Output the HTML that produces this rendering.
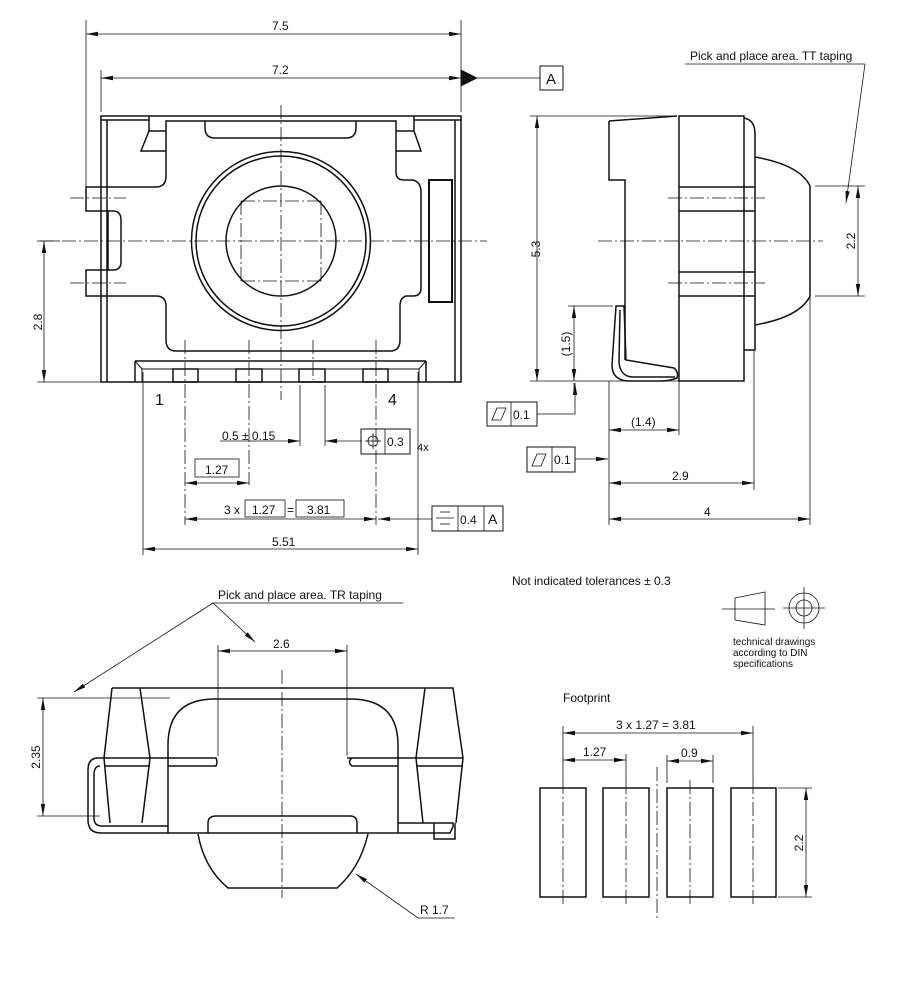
<!DOCTYPE html>
<html><head><meta charset="utf-8"><style>body{margin:0;background:#fff}svg{display:block}text{font-family:"Liberation Sans",sans-serif;fill:#111}</style></head><body>
<svg width="900" height="994" viewBox="0 0 900 994" xmlns="http://www.w3.org/2000/svg">
<defs>
<marker id="a" viewBox="0 0 12 6" refX="12" refY="3" markerWidth="12" markerHeight="6" orient="auto-start-reverse" markerUnits="userSpaceOnUse"><path d="M0,0.8 L12,3 L0,5.2z" fill="#111"/></marker>
</defs>
<g fill="none" stroke="#111" stroke-width="0.8">
<!-- center lines -->
<g stroke-dasharray="14,3,2,3">
<line x1="40" y1="241" x2="487" y2="241"/><line x1="281" y1="105" x2="281" y2="400"/>
<line x1="70" y1="198" x2="126" y2="198"/><line x1="70" y1="283" x2="126" y2="283"/>
<line x1="241" y1="201" x2="321" y2="201"/><line x1="241" y1="281" x2="321" y2="281"/>
<line x1="241" y1="201" x2="241" y2="281"/><line x1="321" y1="201" x2="321" y2="281"/>
<line x1="598" y1="241" x2="823" y2="241"/><line x1="668" y1="198" x2="765" y2="198"/><line x1="668" y1="283" x2="765" y2="283"/>
<line x1="282" y1="670" x2="282" y2="898"/>
<line x1="563" y1="780" x2="563" y2="905"/><line x1="626" y1="780" x2="626" y2="905"/><line x1="690" y1="780" x2="690" y2="905"/><line x1="753" y1="780" x2="753" y2="905"/>
<line x1="657" y1="767" x2="657" y2="920"/>
<line x1="185" y1="340" x2="185" y2="525"/><line x1="249" y1="340" x2="249" y2="485"/><line x1="313" y1="340" x2="313" y2="380"/><line x1="376" y1="340" x2="376" y2="525"/>
</g>
<!-- top view outlines -->
<g stroke-width="1.5">
<rect x="101" y="116" width="360" height="266"/>
<line x1="107" y1="120" x2="107" y2="382"/><line x1="455" y1="120" x2="455" y2="382"/>
<line x1="101" y1="120" x2="149" y2="120"/><line x1="414" y1="120" x2="461" y2="120"/>
<path d="M149,116 V131 L141,151 H166 M149,131 H166"/>
<path d="M414,116 V131 L421,151 H396 M414,131 H396"/>
<path d="M166,121 H396 V172 Q396,180 404,180 H413 Q421,182 421,192 V288 Q421,296 413,296 H406 Q400,298 400,306 V340 Q400,351 390,351 H176 Q166,351 166,340 V306 Q166,296 156,296 H86 V270 H108 V211 H86 V187 H156 Q166,187 166,176 Z"/>
<path d="M108,211 H113 Q121,211 121,220 V262 Q121,270 113,270 H108"/>
<path d="M205,121 V128 Q205,138 215,138 H346 Q356,138 356,128 V121"/>
<rect x="429" y="180" width="23" height="122" stroke-width="2"/>
<line x1="135" y1="361" x2="426" y2="361"/><line x1="135" y1="361" x2="135" y2="382"/><line x1="426" y1="361" x2="426" y2="382"/>
<path d="M135,361 L142,369 V382 M426,361 L419,369 V382 M142,369 H419" stroke-width="1"/>
<rect x="173" y="369" width="25" height="13"/><rect x="236" y="369" width="26" height="13"/><rect x="299" y="369" width="26" height="13"/><rect x="363" y="369" width="25" height="13"/>
<circle cx="281" cy="241" r="89.5"/><circle cx="281" cy="241" r="85"/><circle cx="281" cy="241" r="55"/>
</g>
<!-- top dims -->
<line x1="86" y1="20" x2="86" y2="190"/><line x1="101" y1="70" x2="101" y2="112"/><line x1="461" y1="20" x2="461" y2="112"/>
<line x1="86" y1="34" x2="461" y2="34" marker-start="url(#a)" marker-end="url(#a)"/>
<line x1="101" y1="78" x2="461" y2="78" marker-start="url(#a)" marker-end="url(#a)"/>
<path d="M461,70 L477,78 L461,86z" fill="#111"/><line x1="477" y1="78" x2="540" y2="78"/>
<rect x="540" y="66" width="23" height="24" stroke-width="1"/>
<line x1="37" y1="382" x2="101" y2="382"/><line x1="37" y1="241" x2="60" y2="241"/>
<line x1="44" y1="241" x2="44" y2="382" marker-start="url(#a)" marker-end="url(#a)"/>
<line x1="143" y1="372" x2="143" y2="555"/><line x1="418" y1="372" x2="418" y2="555"/>
<line x1="300" y1="385" x2="300" y2="446"/><line x1="325" y1="385" x2="325" y2="446"/>
<line x1="220" y1="441" x2="300" y2="441" marker-end="url(#a)"/><line x1="362" y1="441" x2="325" y2="441" marker-end="url(#a)"/>
<rect x="361" y="429" width="49" height="25" stroke-width="1"/><line x1="385" y1="429" x2="385" y2="454"/>
<circle cx="373" cy="441" r="5"/><line x1="365" y1="441" x2="381" y2="441"/><line x1="373" y1="433" x2="373" y2="449"/>
<rect x="195" y="459" width="44" height="18"/>
<line x1="185" y1="483" x2="249" y2="483" marker-start="url(#a)" marker-end="url(#a)"/>
<rect x="245" y="500" width="40" height="17"/><rect x="296" y="500" width="48" height="17"/>
<line x1="185" y1="519" x2="376" y2="519" marker-start="url(#a)" marker-end="url(#a)"/>
<line x1="432" y1="519" x2="378" y2="519" marker-end="url(#a)"/>
<rect x="432" y="506" width="71" height="25" stroke-width="1"/><line x1="458" y1="506" x2="458" y2="531"/><line x1="484" y1="506" x2="484" y2="531"/>
<line x1="440" y1="512" x2="450" y2="512"/><line x1="436" y1="518" x2="454" y2="518"/><line x1="440" y1="524" x2="450" y2="524"/>
<line x1="143" y1="549" x2="418" y2="549" marker-start="url(#a)" marker-end="url(#a)"/>
<!-- side view -->
<g stroke-width="1.5">
<path d="M609,121 L677,116 M609,121 V180 H625 V360"/>
<rect x="679" y="116" width="65" height="265"/>
<path d="M744,118 Q755,120 755,134 V350 H744"/>
<path d="M755,157 Q800,165 810,186 V296 Q800,317 755,325"/>
<path d="M679,187 H755 M679,211 H755 M679,272 H755 M679,296 H755"/>
<path d="M616,306 H624 L626,360 L674,368 Q679,372 677,378 Q670,381 660,381 H630 Q612,381 612,365 Z"/>
<path d="M620,310 L619,362 Q620,376 632,377 H675"/>
</g>
<line x1="530" y1="116" x2="677" y2="116"/><line x1="530" y1="381" x2="679" y2="381"/>
<line x1="537" y1="116" x2="537" y2="381" marker-start="url(#a)" marker-end="url(#a)"/>
<line x1="815" y1="186" x2="865" y2="186"/><line x1="815" y1="296" x2="865" y2="296"/>
<line x1="858" y1="186" x2="858" y2="296" marker-start="url(#a)" marker-end="url(#a)"/>
<line x1="685" y1="64" x2="865" y2="64"/><line x1="865" y1="64" x2="846" y2="203" marker-end="url(#a)"/>
<line x1="568" y1="306" x2="613" y2="306"/>
<line x1="574" y1="306" x2="574" y2="381" marker-start="url(#a)" marker-end="url(#a)"/>
<line x1="574" y1="395" x2="574" y2="383"/>
<rect x="487" y="402" width="50" height="24" stroke-width="1"/><line x1="511" y1="402" x2="511" y2="426"/>
<path d="M492,420 L497,408 H506 L501,420z"/>
<path d="M537,414 H575 V383" marker-end="url(#a)"/>
<line x1="609" y1="381" x2="609" y2="525"/><line x1="679" y1="381" x2="679" y2="435"/><line x1="754" y1="350" x2="754" y2="490"/><line x1="810" y1="296" x2="810" y2="525"/>
<line x1="609" y1="430" x2="679" y2="430" marker-start="url(#a)" marker-end="url(#a)"/>
<rect x="527" y="447" width="48" height="25" stroke-width="1"/><line x1="552" y1="447" x2="552" y2="472"/>
<path d="M532,466 L537,454 H546 L541,466z"/>
<line x1="575" y1="459" x2="608" y2="459" marker-end="url(#a)"/>
<line x1="609" y1="483" x2="754" y2="483" marker-start="url(#a)" marker-end="url(#a)"/>
<line x1="609" y1="519" x2="810" y2="519" marker-start="url(#a)" marker-end="url(#a)"/>
<!-- DIN symbols -->
<path d="M735,598 L765,592 V625 L735,620z"/><line x1="722" y1="609" x2="775" y2="609"/>
<circle cx="804" cy="608" r="15"/><circle cx="804" cy="608" r="8"/><line x1="783" y1="608" x2="825" y2="608"/><line x1="804" y1="587" x2="804" y2="629"/>
<!-- bottom-left view -->
<g stroke-width="1.5">
<path d="M112,688 H453 L463,758 L456,823 M112,688 L104,758 L110,823"/>
<path d="M140,688 L150,758 L142,823 M425,688 L416,758 L423,823"/>
<path d="M168,766 V745 Q168,699 215,699 H350 Q398,699 398,745 V758"/>
<path d="M98,758 H216 Q218,762 216,766 H168 V833 M347,758 H463 M398,766 H352 Q347,762 352,758 M398,758 V833 M104,766 H150 M416,766 H463"/>
<path d="M98,758 Q88,758 88,770 V820 Q88,833 101,833 H168 M100,766 Q94,766 94,775 V818 Q94,826 102,826 L168,826"/>
<path d="M398,823 H453 V827 L450,833 H398 M434,823 V839 H455 V823"/>
<path d="M208,833 V823 Q208,816 216,816 H350 Q357,816 357,823 V833 M168,833 H398"/>
<path d="M198,834 Q204,868 228,888 H337 Q360,868 368,834"/>
</g>
<line x1="218" y1="645" x2="218" y2="756"/><line x1="347" y1="645" x2="347" y2="756"/>
<line x1="218" y1="651" x2="347" y2="651" marker-start="url(#a)" marker-end="url(#a)"/>
<line x1="37" y1="698" x2="170" y2="698"/><line x1="37" y1="816" x2="100" y2="816"/>
<line x1="43" y1="698" x2="43" y2="816" marker-start="url(#a)" marker-end="url(#a)"/>
<line x1="213" y1="603" x2="403" y2="603"/>
<line x1="213" y1="603" x2="74" y2="692" marker-end="url(#a)"/><line x1="213" y1="603" x2="255" y2="642" marker-end="url(#a)"/>
<path d="M455,918 H418 L356,874" marker-end="url(#a)"/>
<!-- footprint -->
<g stroke-width="1.5"><rect x="540" y="788" width="46" height="109"/><rect x="603" y="788" width="46" height="109"/><rect x="667" y="788" width="46" height="109"/><rect x="731" y="788" width="45" height="109"/></g>
<line x1="563" y1="726" x2="563" y2="780"/><line x1="626" y1="754" x2="626" y2="780"/><line x1="753" y1="726" x2="753" y2="780"/>
<line x1="667" y1="755" x2="667" y2="783"/><line x1="713" y1="755" x2="713" y2="783"/>
<line x1="563" y1="733" x2="753" y2="733" marker-start="url(#a)" marker-end="url(#a)"/>
<line x1="563" y1="760" x2="626" y2="760" marker-start="url(#a)" marker-end="url(#a)"/>
<line x1="667" y1="761" x2="713" y2="761" marker-start="url(#a)" marker-end="url(#a)"/>
<line x1="778" y1="788" x2="812" y2="788"/><line x1="778" y1="897" x2="812" y2="897"/>
<line x1="806" y1="788" x2="806" y2="897" marker-start="url(#a)" marker-end="url(#a)"/>
</g>
<g font-size="12">
<text x="272" y="30">7.5</text><text x="272" y="74">7.2</text>
<text x="546" y="84" font-size="15">A</text>
<text x="42" y="322" transform="rotate(-90 42 322)" text-anchor="middle">2.8</text>
<text x="155" y="405" font-size="16">1</text><text x="388" y="405" font-size="16">4</text>
<text x="222" y="440">0.5  ± 0.15</text>
<text x="387" y="446">0.3</text><text x="417" y="451" font-size="11">4x</text>
<text x="205" y="474">1.27</text>
<text x="224" y="514">3 x</text><text x="252" y="514">1.27</text><text x="287" y="514">=</text><text x="307" y="514">3.81</text>
<text x="460" y="524">0.4</text><text x="488" y="524" font-size="14">A</text>
<text x="272" y="546">5.51</text>
<text x="690" y="60">Pick and place area. TT taping</text>
<text x="540" y="249" transform="rotate(-90 540 249)" text-anchor="middle">5.3</text>
<text x="855" y="241" transform="rotate(-90 855 241)" text-anchor="middle">2.2</text>
<text x="570" y="344" transform="rotate(-90 570 344)" text-anchor="middle">(1.5)</text>
<text x="513" y="419">0.1</text><text x="554" y="464">0.1</text>
<text x="631" y="426">(1.4)</text><text x="672" y="480">2.9</text><text x="704" y="516">4</text>
<text x="512" y="585">Not indicated tolerances ± 0.3</text>
<text x="733" y="645" font-size="10">technical drawings</text><text x="733" y="656" font-size="10">according to DIN</text><text x="733" y="667" font-size="10">specifications</text>
<text x="218" y="599">Pick and place area. TR taping</text>
<text x="273" y="648">2.6</text>
<text x="40" y="757" transform="rotate(-90 40 757)" text-anchor="middle">2.35</text>
<text x="420" y="914">R 1.7</text>
<text x="563" y="702">Footprint</text>
<text x="616" y="729">3 x 1.27 = 3.81</text>
<text x="583" y="756">1.27</text><text x="681" y="757">0.9</text>
<text x="803" y="843" transform="rotate(-90 803 843)" text-anchor="middle">2.2</text>
</g>
</svg>
</body></html>
